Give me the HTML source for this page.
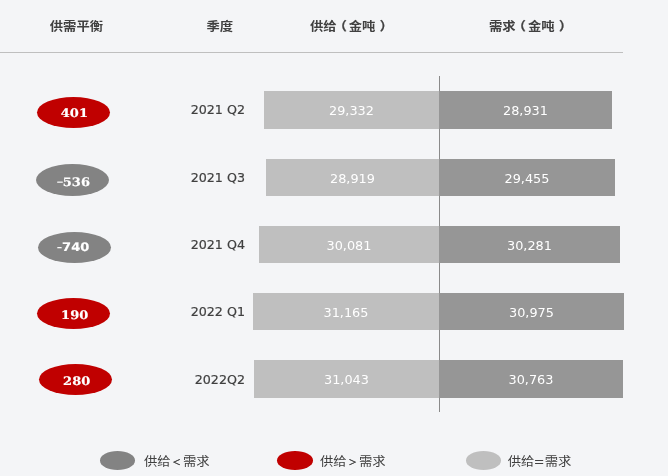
<!DOCTYPE html>
<html lang="zh-CN">
<head>
<meta charset="utf-8">
<title>供需平衡</title>
<style>
html,body{margin:0;padding:0;}
body{width:668px;height:476px;background:#f4f5f7;position:relative;overflow:hidden;
 font-family:"DejaVu Sans","Noto Sans CJK SC",sans-serif;color:#404040;}
.hd{position:absolute;top:18px;height:18px;line-height:18px;font-size:13.33px;font-weight:bold;color:#404040;
 font-family:"Liberation Sans","Noto Sans CJK SC",sans-serif;white-space:nowrap;transform:scaleY(0.9);transform-origin:50% 50%;}
.hd i,.lt i{font-style:normal;display:inline-block;width:13.33px;text-align:center;}
.hd i{font-size:13.33px;}
.hd i.pl{text-indent:-4.8px;-webkit-text-stroke:0.3px #404040;}
.hd i.pr{text-indent:4.4px;-webkit-text-stroke:0.3px #404040;}
.lt i{width:12.4px;position:relative;left:-0.3px;top:-0.5px;}
.lt i.fw u{text-decoration:none;display:inline-block;width:13.33px;margin:0 -0.5px;transform:translateY(0.5px) scale(0.62);-webkit-text-stroke:0.7px #404040;}
.hline{position:absolute;left:0;top:52px;width:623px;height:1px;background:#bfbfbf;}
.vline{position:absolute;left:439px;top:76px;width:1px;height:336px;background:#8a8a8a;}
.bar{position:absolute;height:37px;line-height:37px;color:#fff;font-size:12.85px;text-align:center;white-space:nowrap;}
.bar span{display:inline-block;transform:translateY(0.6px);}
.s{background:#bfbfbf;}
.d{background:#969696;}
.q{position:absolute;left:150.5px;width:94.5px;text-align:right;font-size:12.67px;word-spacing:0.1px;-webkit-text-stroke:0.2px #404040;height:20px;line-height:20px;color:#404040;white-space:nowrap;}
.ov{position:absolute;width:73px;height:31px;border-radius:50%;color:#fff;text-align:center;line-height:31px;
 font-family:"DejaVu Serif","Liberation Serif",serif;font-weight:bold;font-size:13px;}
.on{position:absolute;color:#fff;white-space:nowrap;line-height:16px;height:16px;
 font-family:"DejaVu Serif","Liberation Serif",serif;font-weight:bold;font-size:13px;text-rendering:geometricPrecision;
 -webkit-text-stroke:0.2px #fff;transform:translate(-50%,-50%) scale(1.0,0.9);}
.on b{display:inline-block;font-weight:bold;transform:scale(1.3,0.55);margin:0 0.5px;position:relative;top:-0.8px;}
.red{background:#c00000;}
.gry{background:#838383;}
.lg{position:absolute;width:35px;height:19px;border-radius:50%;top:451px;}
.lt{position:absolute;top:453.3px;height:18px;line-height:18px;font-size:13.33px;color:#404040;white-space:nowrap;
 font-family:"Liberation Sans","Noto Sans CJK SC",sans-serif;transform:scaleY(0.9);transform-origin:50% 50%;}
</style>
</head>
<body>
<div class="hd" style="left:49.8px;">供需平衡</div>
<div class="hd" style="left:206.4px;">季度</div>
<div class="hd" style="left:309.9px;">供给<i class="pl" style="width:12.1px">（</i>金吨<i class="pr">）</i></div>
<div class="hd" style="left:489px;">需求<i class="pl" style="width:12.4px;text-indent:-5.3px">（</i>金吨<i class="pr">）</i></div>
<div class="hline"></div>
<div class="vline"></div>

<div class="ov red" style="left:37px;top:97px;"></div>
<div class="ov gry" style="left:36px;top:164px;height:32px;"></div>
<div class="ov gry" style="left:38px;top:232px;"></div>
<div class="ov red" style="left:37px;top:298px;"></div>
<div class="ov red" style="left:39px;top:364px;"></div>
<div class="on" style="left:74.4px;top:113.9px;">401</div>
<div class="on" style="left:73.2px;top:183px;"><b>-</b>536</div>
<div class="on" style="left:73px;top:246.8px;font-family:'DejaVu Sans','Liberation Sans',sans-serif;font-size:12.3px;-webkit-text-stroke:0.15px #fff;transform:translate(-50%,-50%) scale(1.06,0.96);"><b style="transform:scale(1,0.7);margin:0;top:0">-</b>740</div>
<div class="on" style="left:74.7px;top:315.9px;">190</div>
<div class="on" style="left:76.7px;top:382.2px;">280</div>

<div class="q" style="top:100px;">2021 Q2</div>
<div class="q" style="top:168px;">2021 Q3</div>
<div class="q" style="top:235px;">2021 Q4</div>
<div class="q" style="top:302px;">2022 Q1</div>
<div class="q" style="top:369.5px;">2022Q2</div>

<div class="bar s" style="left:264px;width:175px;top:91px;height:38px;"><span>29,332</span></div>
<div class="bar d" style="left:439px;width:173px;top:91px;height:38px;"><span>28,931</span></div>
<div class="bar s" style="left:266px;width:173px;top:159px;"><span>28,919</span></div>
<div class="bar d" style="left:439px;width:176px;top:159px;"><span>29,455</span></div>
<div class="bar s" style="left:259px;width:180px;top:226px;"><span>30,081</span></div>
<div class="bar d" style="left:439px;width:181px;top:226px;"><span>30,281</span></div>
<div class="bar s" style="left:253px;width:186px;top:293px;"><span>31,165</span></div>
<div class="bar d" style="left:439px;width:185px;top:293px;"><span>30,975</span></div>
<div class="bar s" style="left:254px;width:185px;top:360px;height:38px;"><span>31,043</span></div>
<div class="bar d" style="left:439px;width:184px;top:360px;height:38px;"><span>30,763</span></div>

<div class="lg gry" style="left:100px;"></div><div class="lt" style="left:144px;">供给<i class="fw"><u>＜</u></i>需求</div>
<div class="lg red" style="left:277px;width:36px;"></div><div class="lt" style="left:320px;">供给<i class="fw"><u>＞</u></i>需求</div>
<div class="lg" style="left:466px;background:#bfbfbf;"></div><div class="lt" style="left:507.8px;">供给<i style="width:10.2px;left:0;top:0;transform:scaleX(1.25)">=</i>需求</div>
</body>
</html>
